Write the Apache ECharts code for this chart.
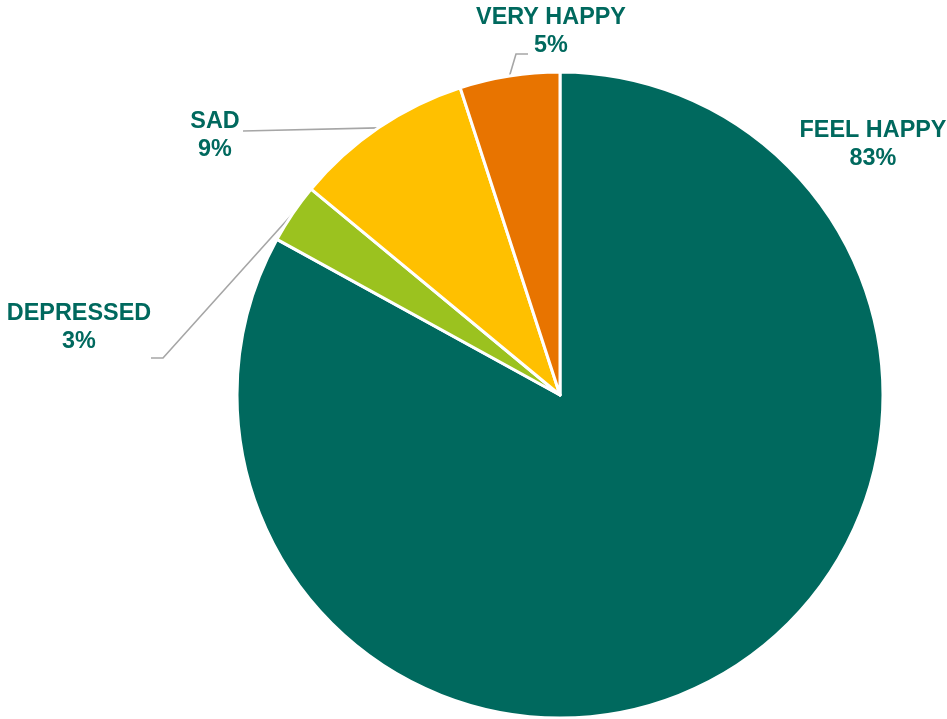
<!DOCTYPE html>
<html>
<head>
<meta charset="utf-8">
<script src="https://cdn.jsdelivr.net/npm/echarts@6/dist/echarts.min.js"></script>
<style>
  html, body { margin: 0; padding: 0; background: #ffffff; }
  #chart { width: 947px; height: 719px; }
</style>
</head>
<body>
<div id="chart"></div>
<script>
// Survey mood shares, in percent, clockwise from twelve o'clock
var categories = ['FEEL HAPPY', 'DEPRESSED', 'SAD', 'VERY HAPPY'];
var shares = [83, 3, 9, 5];
var colors = ['#00695E', '#9BC21F', '#FFC000', '#E87400'];

// Where each label block sits, and the bend points of its leader line
var labelSpots = [
  { x: 873, y: 145, line: null },
  { x: 79, y: 328, line: [[163, 358], [151, 358]] },
  { x: 215, y: 136, line: [[243, 131]] },
  { x: 551, y: 32, line: [[516, 54], [528, 54]] }
];

var chart = echarts.init(document.getElementById('chart'), null, { renderer: 'canvas' });

var data = categories.map(function (name, i) {
  return {
    name: name,
    value: shares[i],
    itemStyle: { color: colors[i] },
    labelLine: { show: labelSpots[i].line !== null }
  };
});

chart.setOption({
  animation: false,
  backgroundColor: '#ffffff',
  series: [{
    type: 'pie',
    center: [560, 395],
    radius: [0, 323],
    startAngle: 90,
    clockwise: true,
    data: data,
    itemStyle: { borderColor: '#ffffff', borderWidth: 3 },
    label: {
      show: true,
      position: 'outside',
      formatter: '{b}\n{c}%',
      color: '#00695E',
      fontFamily: '"Liberation Sans", Arial, sans-serif',
      fontWeight: 'bold',
      fontSize: 23.4,
      lineHeight: 28,
      align: 'center'
    },
    labelLine: {
      show: true,
      length: 10,
      length2: 10,
      lineStyle: { color: '#A6A6A6', width: 1.6 }
    },
    labelLayout: function (params) {
      var spot = labelSpots[params.dataIndex];
      var out = { x: spot.x, y: spot.y, align: 'center', verticalAlign: 'middle' };
      if (spot.line && params.labelLinePoints && params.labelLinePoints.length) {
        var start = params.labelLinePoints[0];
        out.labelLinePoints = [[start[0], start[1]]].concat(spot.line);
      }
      return out;
    }
  }]
});
</script>
</body>
</html>
